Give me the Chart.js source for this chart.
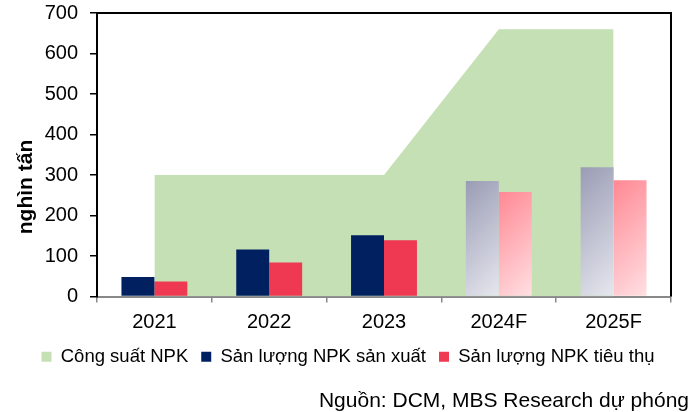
<!DOCTYPE html>
<html>
<head>
<meta charset="utf-8">
<script src="https://cdn.jsdelivr.net/npm/chart.js@4.4.1/dist/chart.umd.min.js"></script>
<style>
  html, body { margin: 0; padding: 0; background: #fff; }
  #wrap { width: 691px; height: 412px; }
</style>
</head>
<body>
<div id="wrap"><canvas id="myChart"></canvas></div>
<script>
let years = ["2021", "2022", "2023", "2024F", "2025F"];
let capacity = [300, 300, 300, 660, 660];
let produced = [48, 116, 151, 285, 319];
let consumed = [37, 84, 139, 258, 287];
let yTicks = [0, 100, 200, 300, 400, 500, 600, 700];

const FONT = 'Arial, "Liberation Sans", sans-serif';

// forecast bars (2024F, 2025F) get a diagonal gradient like the original
function barFill(solid, from, to) {
  return ctx => {
    if (ctx.type !== 'data' || ctx.dataIndex < 3) return solid;
    let chart = ctx.chart;
    if (!chart.chartArea || !chart.scales.x) return solid;
    let x = chart.scales.x, y = chart.scales.y;
    let center = x.getPixelForValue(ctx.dataIndex);
    let w = 33;
    let left = ctx.datasetIndex === 1 ? center - w : center;
    let top = y.getPixelForValue(ctx.raw), bottom = y.getPixelForValue(0);
    let d = (w + (bottom - top)) / 2;
    let g = chart.ctx.createLinearGradient(left, top, left + d, top + d);
    g.addColorStop(0, from);
    g.addColorStop(1, to);
    return g;
  };
}

let extras = {
  id: 'extras',
  afterDraw(chart) {
    let c = chart.ctx, a = chart.chartArea;
    c.save();
    // frame top + right
    c.strokeStyle = '#000';
    c.lineWidth = 2;
    c.beginPath();
    c.moveTo(a.left, a.top);
    c.lineTo(a.right, a.top);
    c.lineTo(a.right, a.bottom);
    c.stroke();
    // y title
    c.fillStyle = '#000';
    c.font = 'bold 21px ' + FONT;
    c.textAlign = 'center';
    c.textBaseline = 'middle';
    c.translate(26, 187);
    c.rotate(-Math.PI / 2);
    c.fillText('nghìn tấn', 0, 0);
    c.restore();
    // source
    c.save();
    c.fillStyle = '#000';
    c.font = '21px ' + FONT;
    c.textAlign = 'right';
    c.textBaseline = 'middle';
    c.fillText('Nguồn: DCM, MBS Research dự phóng', 689, 401);
    c.restore();
  }
};

let chart = new Chart(document.getElementById('myChart'), {
  data: {
    labels: years,
    datasets: [{
      type: 'line',
      label: 'Công suất NPK',
      data: capacity,
      backgroundColor: '#C5E0B4',
      borderColor: '#C5E0B4',
      borderWidth: 0,
      pointRadius: 0,
      fill: 'origin',
      tension: 0,
      order: 2
    }, {
      type: 'bar',
      label: 'Sản lượng NPK sản xuất',
      data: produced,
      backgroundColor: barFill('#002060', '#9A9CB5', '#E6E7EE'),
      barPercentage: 1,
      categoryPercentage: 0.574,
      order: 1
    }, {
      type: 'bar',
      label: 'Sản lượng NPK tiêu thụ',
      data: consumed,
      backgroundColor: barFill('#EF3852', '#FF8893', '#FFE0E3'),
      barPercentage: 1,
      categoryPercentage: 0.574,
      order: 1
    }]
  },
  options: {
    responsive: true,
    maintainAspectRatio: false,
    animation: false,
    layout: { padding: { left: 25, right: 20, top: 13, bottom: 36 } },
    scales: {
      x: {
        offset: true,
        grid: { offset: true, drawOnChartArea: false, color: '#888', tickLength: 6, lineWidth: 1.5 },
        border: { color: '#888', width: 2 },
        ticks: { color: '#000', font: { family: FONT, size: 20 }, padding: 8 },
        afterFit: s => { s.height = 38; }
      },
      y: {
        min: 0,
        max: 700,
        afterBuildTicks: s => { s.ticks = yTicks.map(v => ({ value: v })); },
        grid: { drawOnChartArea: false, color: '#000', tickLength: 7, lineWidth: 1.5 },
        border: { color: '#000', width: 2 },
        ticks: { color: '#000', font: { family: FONT, size: 20 }, padding: 12 },
        afterFit: s => { s.width = 72; s.paddingTop = 0; s.paddingBottom = 0; }
      }
    },
    plugins: {
      legend: {
        position: 'bottom',
        labels: {
          color: '#000',
          font: { family: FONT, size: 18.5 },
          boxWidth: 10,
          boxHeight: 10,
          padding: 13,
          sort: (a, b) => a.datasetIndex - b.datasetIndex
        }
      },
      tooltip: { enabled: false }
    }
  },
  plugins: [extras]
});
</script>
</body>
</html>
